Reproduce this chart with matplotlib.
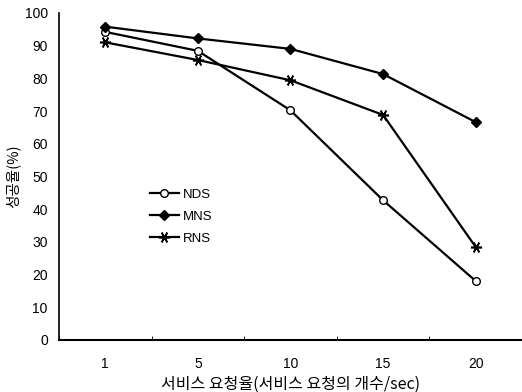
import matplotlib
matplotlib.use("Agg")
import matplotlib.pyplot as plt
import numpy as np

categories = ["1", "5", "10", "15", "20"]
nds = [94.2, 88.4, 70.2, 42.7, 18.0]
mns = [95.8, 92.2, 89.0, 81.3, 66.6]
rns = [91.0, 85.6, 79.4, 68.8, 28.4]
yticks = [0, 10, 20, 30, 40, 50, 60, 70, 80, 90, 100]

plt.rcParams['font.family'] = ['Liberation Sans', 'Noto Sans CJK KR', 'DejaVu Sans']

fig = plt.figure(figsize=(5.22, 3.92), dpi=100)
ax = fig.add_axes([0.113, 0.133, 0.887, 0.834])

x = np.arange(len(categories))
ax.plot(x, nds, color='black', lw=1.6, marker='o', ms=5.5, mfc='white', mec='black', mew=1.0, label='NDS')
ax.plot(x, mns, color='black', lw=1.6, marker='D', ms=5, mfc='black', mec='black', label='MNS')
ax.plot(x, rns, color='black', lw=1.6, marker=(6, 2, 90), ms=8, mec='black', mew=1.2, label='RNS')

ax.set_xlim(-0.5, len(categories) - 0.5)
ax.set_ylim(0, 100)
ax.set_xticks(x)
ax.set_xticklabels(categories, fontsize=10)
ax.set_xticks(np.arange(-0.5, len(categories), 1.0), minor=True)
ax.tick_params(axis='x', which='major', length=0, pad=12)
ax.tick_params(axis='x', which='minor', direction='in', length=3)
ax.set_yticks(yticks)
ax.set_yticklabels([str(v) for v in yticks], fontsize=10)
ax.tick_params(axis='y', length=0, pad=8)

for s in ['top', 'right']:
    ax.spines[s].set_visible(False)
ax.spines['left'].set_linewidth(1.2)
ax.spines['bottom'].set_linewidth(1.5)

ax.set_ylabel('성공율(%)', family=['Noto Sans CJK KR'], fontsize=10.5, labelpad=3)
ax.set_xlabel('서비스 요청율(서비스 요청의 개수/sec)', family=['Noto Sans CJK KR'], fontsize=11.5, labelpad=4)

leg = ax.legend(loc='upper left', bbox_to_anchor=(0.17, 0.5), frameon=False, fontsize=9.5,
                handlelength=2.2, handletextpad=0.3, labelspacing=0.75)

fig.savefig('out.png', dpi=100)
